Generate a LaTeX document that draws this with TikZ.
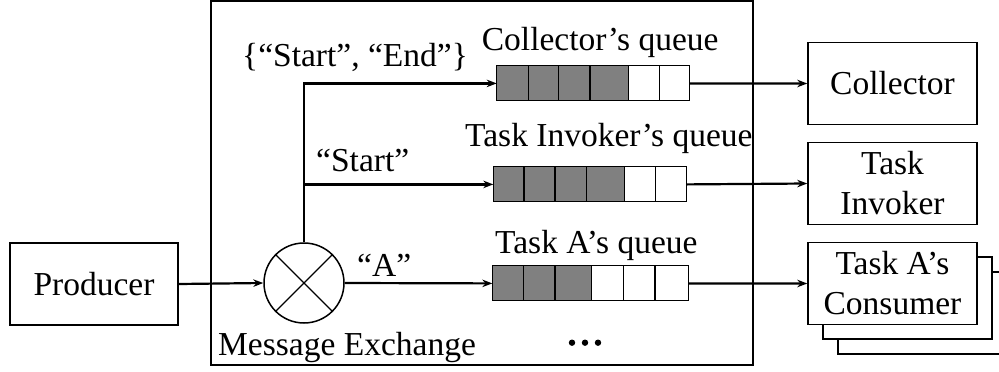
\documentclass[tikz,border=0pt]{standalone}
\usepackage{fontspec}
\setmainfont{Liberation Serif}
\usetikzlibrary{arrows.meta}

\tikzset{
  every node/.style={font=\fontsize{33.5}{40}\selectfont},
  box/.style={draw, line width=1.5pt, fill=white, inner sep=0pt, align=center},
  qdark/.style={draw, line width=1.5pt, fill=black!50},
  qlight/.style={draw, line width=1.5pt, fill=white},
  qframe/.style={inner sep=0pt, minimum height=35pt},
  link/.style={line width=2.2pt, -{Stealth[length=10pt,width=7.5pt]}},
  label/.style={anchor=base west, inner sep=0pt},
}

\begin{document}
\begin{tikzpicture}[x=1pt, y=-1pt]
\useasboundingbox (0,0) rectangle (999,372);
\clip (0,0) rectangle (999,372);

% message exchange frame
\draw[line width=1.5pt] (211,1) rectangle (753,365);
\node[label] (mxlabel) at (218,355) {Message Exchange};

% producer
\node[box, minimum width=168pt, minimum height=82pt] (prod) at (94,284) {Producer};

% exchange symbol
\node[draw, circle, line width=1.5pt, minimum size=80pt, inner sep=0pt] (ex) at (304,283) {};
\draw[line width=1.2pt] (ex.north west) -- (ex.south east)
                        (ex.north east) -- (ex.south west);

% queues: outline nodes
\node[qframe, minimum width=192.6pt, anchor=north west] (cq) at (496.7,65.7) {};
\node[qframe, minimum width=193.4pt, anchor=north west] (iq) at (493.3,166.7) {};
\node[qframe, minimum width=196pt, anchor=north west] (aq) at (492.3,265.7) {};

% queue cells
\foreach \a/\b/\s in {496.7/528.3/qdark, 528.3/558.3/qdark, 558.3/590/qdark, 590/628.3/qdark,
                      628.3/659.3/qlight, 659.3/689.3/qlight}
  \draw[\s] (\a,65.7) rectangle (\b,100.7);
\foreach \a/\b/\s in {493.3/524/qdark, 524/555/qdark, 555/586.7/qdark, 586.7/624.3/qdark,
                      624.3/655.7/qlight, 655.7/686.7/qlight}
  \draw[\s] (\a,166.7) rectangle (\b,201.7);
\foreach \a/\b/\s in {492.3/523.3/qdark, 523.3/555/qdark, 555/591.7/qdark,
                      591.7/623.3/qlight, 623.3/655/qlight, 655/688.3/qlight}
  \draw[\s] (\a,265.7) rectangle (\b,300.7);

% queue captions
\node[label] (cqlabel) at (481.7,50) {Collector’s queue};
\node[label] (iqlabel) at (465,146.7) {Task Invoker’s queue};
\node[label] (aqlabel) at (495,253) {Task A’s queue};

% routing keys
\node[label] (kcoll) at (242,66.7) {\{“Start”, “End”\}};
\node[label] (kinv) at (316,171) {“Start”};
\node[label] (ka) at (357,276) {“A”};

% more queues
\foreach \x [count=\i] in {572,585,598}
  \fill (\x,342.7) circle (3.2pt) coordinate (dot\i);

% consumers
\node[box, minimum width=169pt, minimum height=82pt] (coll) at (892.5,83.5) {Collector};
\node[box, minimum width=169pt, minimum height=82pt] (inv) at (892.5,183.5) {Task\\Invoker};
\node[box, minimum width=169pt, minimum height=82pt] (cons3) at (922.5,313) {};
\node[box, minimum width=169pt, minimum height=82pt] (cons2) at (907.5,298) {};
\node[box, minimum width=169pt, minimum height=82pt] (cons) at (892.5,283.5) {Task A’s\\Consumer};

% connectors
\draw[link] (prod.east) -- (ex.west);
\draw[link] (ex.north) |- (cq.west);
\draw[link] (ex.north |- iq.west) -- (iq.west);
\draw[link] (ex.east) -- (aq.west);
\draw[link] (cq.east) -- (coll.west);
\draw[link] (iq.east) -- (inv.west);
\draw[link] (aq.east) -- (cons.west);
\end{tikzpicture}
\end{document}
